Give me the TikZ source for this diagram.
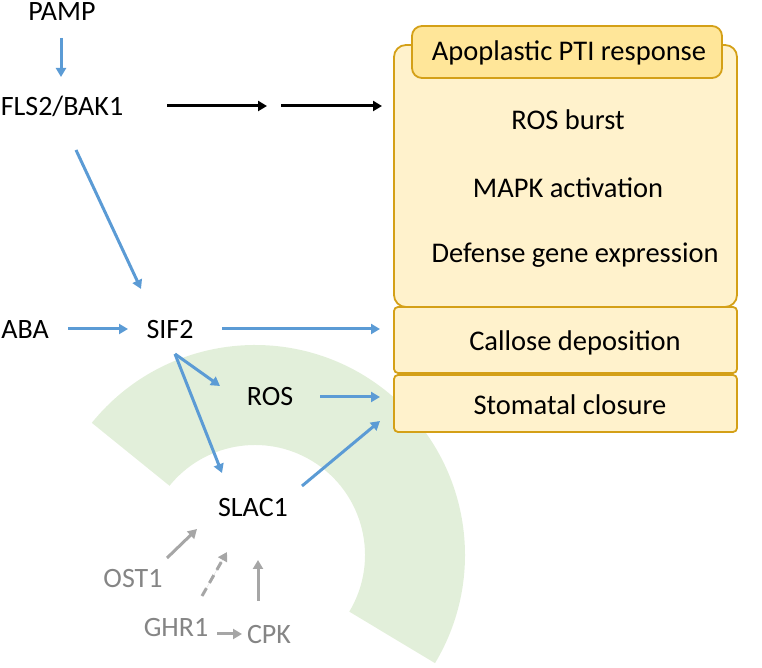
\documentclass[tikz,border=0pt]{standalone}
\usepackage{fontspec}
\setmainfont{Carlito}
\usetikzlibrary{arrows.meta}
\definecolor{bluearr}{HTML}{5B9BD5}
\definecolor{grayarr}{HTML}{A6A6A6}
\definecolor{graytxt}{HTML}{858585}
\definecolor{greenbg}{HTML}{E2EFDA}
\definecolor{boxfill}{HTML}{FFF2CC}
\definecolor{titlefill}{HTML}{FFE699}
\definecolor{boxline}{HTML}{D4A017}
\tikzset{
  lbl/.style={inner sep=0pt, font=\fontsize{28}{32}\selectfont},
  glbl/.style={lbl, text=graytxt},
  btxt/.style={inner sep=0pt, font=\fontsize{28.5}{32}\selectfont},
  tip/.style={-{Triangle[length=9pt,width=10pt]}},
  barrow/.style={tip, draw=bluearr, fill=bluearr, line width=3pt},
  karrow/.style={tip, draw=black, line width=3pt},
  garrow/.style={tip, draw=grayarr, fill=grayarr, line width=3pt},
  panel/.style={draw=boxline, fill=boxfill, line width=1.8pt},
}
\begin{document}
\begin{tikzpicture}[x=1pt,y=1pt]
\useasboundingbox (0,0) rectangle (762,668);
% green sector
\coordinate (gc) at (255,113);
\fill[greenbg] ([shift={(141:210)}]gc) arc[start angle=141,end angle=-31,radius=210pt]
  -- ([shift={(-31:110)}]gc) arc[start angle=-31,end angle=141,radius=110pt] -- cycle;
% boxes
\path[panel, rounded corners=12pt] (394,361) rectangle (737,623);
\node[panel, fill=titlefill, rounded corners=10pt, minimum width=310pt, minimum height=52pt, inner sep=0pt] (title) at (567,616) {};
\node[btxt] at (569,615) {Apoplastic PTI response};
\path[panel, rounded corners=4pt] (394,295) rectangle (737,361);
\path[panel, rounded corners=4pt] (394,236) rectangle (737,293);
\coordinate (bigbox) at (394,562);
\coordinate (callbox) at (394,328);
\coordinate (stobox) at (394,264);
\node[btxt] (rosb) at (568,548) {ROS burst};
\node[btxt] (mapk) at (568,480) {MAPK activation};
\node[btxt] (defg) at (575,413) {Defense gene expression};
\node[btxt] (call) at (575,325) {Callose deposition};
\node[btxt] (stom) at (570,263) {Stomatal closure};
% labels
\node[lbl] (pamp) at (62,656) {PAMP};
\node[lbl] (fls) at (62,562) {FLS2/BAK1};
\node[lbl] (aba) at (25,338) {ABA};
\node[lbl] (sif) at (170,338) {SIF2};
\node[lbl] (ros) at (270,271) {ROS};
\node[lbl] (slac) at (253,160) {SLAC1};
\node[glbl] (ost) at (133,89) {OST1};
\node[glbl] (ghr) at (176,40) {GHR1};
\node[glbl] (cpk) at (269,33) {CPK};
\coordinate (mid) at (274,562);
% arrows
\draw[barrow] ([shift={(-1,-26)}]pamp.center) -- ([shift={(-1,29)}]fls.center);
\draw[karrow] ([shift={(105,0)}]fls.center) -- ([shift={(-7,0)}]mid);
\draw[karrow] ([shift={(7,0)}]mid) -- ([shift={(-12,0)}]bigbox);
\draw[barrow] ([shift={(14,-44)}]fls.center) -- ([shift={(-29,41)}]sif.center);
\draw[barrow] ([shift={(43,1)}]aba.center) -- ([shift={(-42,1)}]sif.center);
\draw[barrow] ([shift={(52,1)}]sif.center) -- ([shift={(-14,11)}]callbox);
\draw[barrow] ([shift={(5,-24)}]sif.center) -- ([shift={(-50,11)}]ros.center);
\draw[barrow] ([shift={(5,-24)}]sif.center) -- ([shift={(-31,35)}]slac.center);
\draw[barrow] ([shift={(50,0)}]ros.center) -- ([shift={(-14,7)}]stobox);
\draw[barrow] ([shift={(49,22)}]slac.center) -- ([shift={(-14,-17)}]stobox);
\draw[garrow] ([shift={(34,21)}]ost.center) -- ([shift={(-56,-21)}]slac.center);
\draw[garrow, dash pattern=on 9pt off 6pt] ([shift={(26,32)}]ghr.center) -- ([shift={(-26,-44)}]slac.center);
\draw[garrow] ([shift={(-11,34)}]cpk.center) -- ([shift={(5,-52)}]slac.center);
\draw[garrow] ([shift={(41,-6)}]ghr.center) -- ([shift={(-27,1)}]cpk.center);
\end{tikzpicture}
\end{document}
